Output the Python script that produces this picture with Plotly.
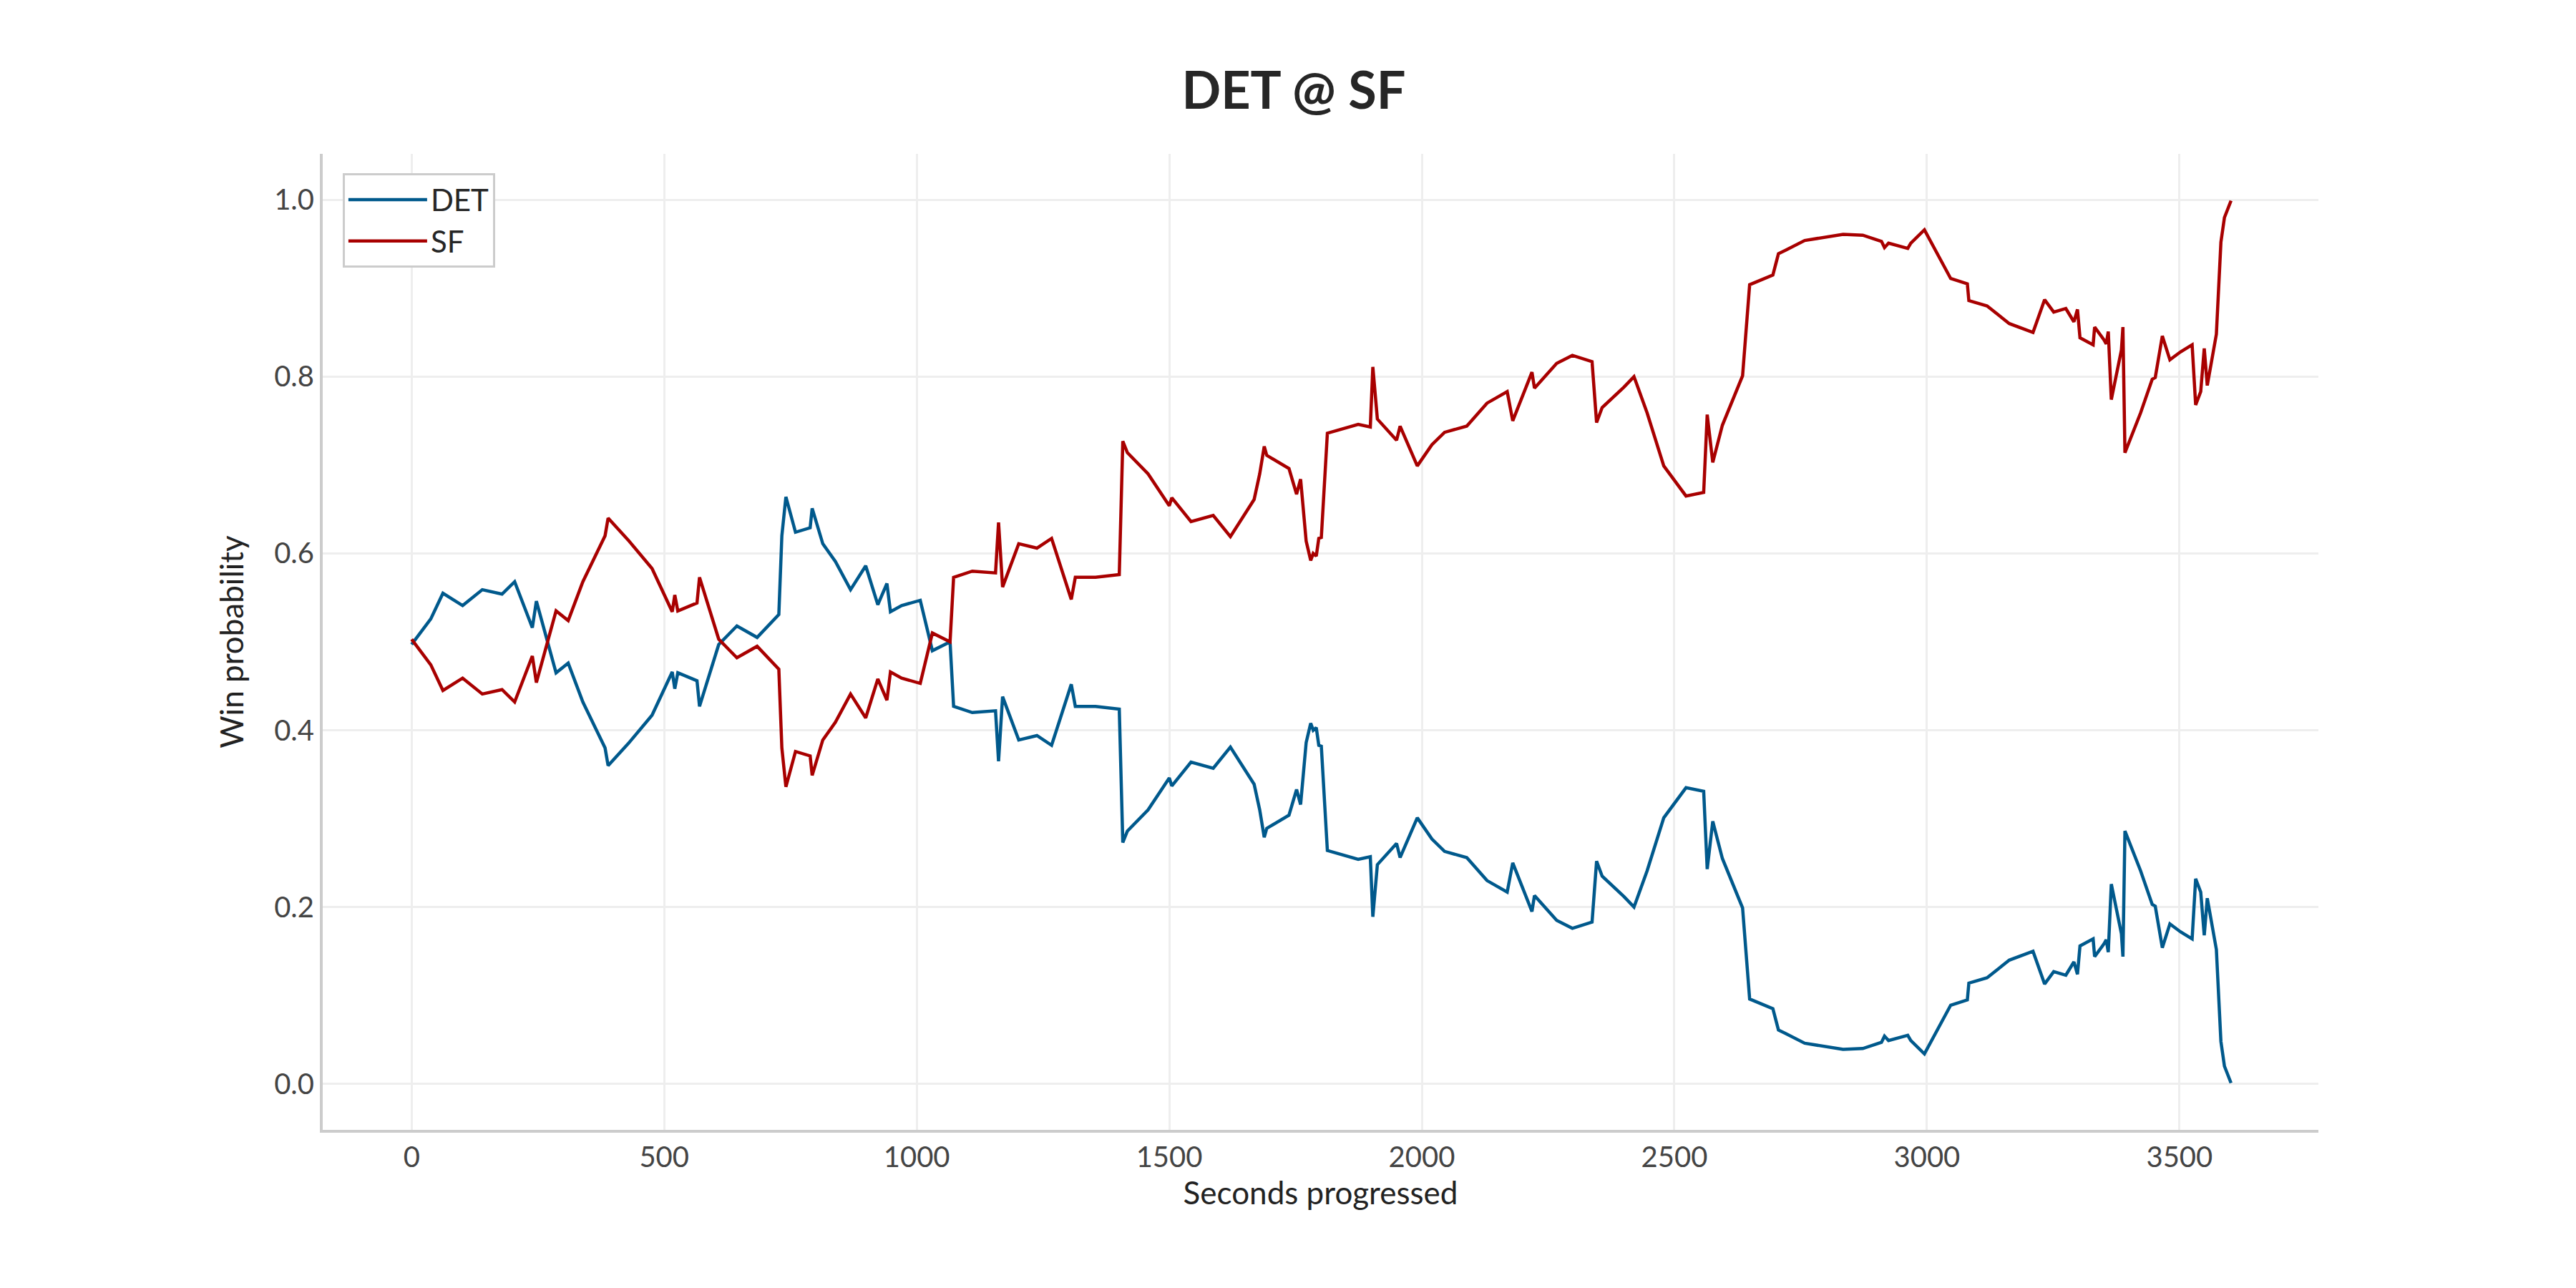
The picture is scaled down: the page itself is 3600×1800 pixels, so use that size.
import plotly.graph_objects as go

# seconds progressed
seconds = [0, 38, 62, 101, 140, 179, 204, 239, 247, 286, 310, 339, 383, 389, 429, 476,
           516, 521, 527, 565, 570, 608, 644, 684, 727, 733, 741, 760, 789, 793, 814, 839,
           869, 899, 923, 941, 948, 970, 1007, 1031, 1066, 1073, 1110, 1156, 1162, 1170,
           1202, 1238, 1267, 1306, 1314, 1354, 1401, 1408, 1417, 1458, 1500, 1505, 1543,
           1587, 1621, 1668, 1679, 1688, 1693, 1737, 1752, 1760, 1771, 1780, 1785, 1791,
           1796, 1801, 1813, 1874, 1898, 1903, 1912, 1950, 1957, 1991, 2020, 2045, 2089,
           2129, 2169, 2180, 2218, 2223, 2267, 2298, 2337, 2346, 2357, 2400, 2420, 2446,
           2479, 2523, 2558, 2565, 2576, 2595, 2635, 2649, 2695, 2706, 2720, 2758, 2834,
           2873, 2910, 2916, 2924, 2962, 2968, 2995, 3047, 3080, 3083, 3119, 3163, 3210,
           3233, 3251, 3275, 3291, 3298, 3303, 3329, 3332, 3350, 3355, 3359, 3365, 3385,
           3388, 3392, 3401, 3423, 3446, 3452, 3466, 3472, 3481, 3502, 3525, 3532, 3542,
           3549, 3555, 3573, 3582, 3589, 3602]

sf_prob = [0.503, 0.474, 0.445, 0.459, 0.441, 0.446, 0.432, 0.484, 0.454, 0.535, 0.524,
           0.568, 0.620, 0.640, 0.615, 0.583, 0.534, 0.553, 0.535, 0.544, 0.573, 0.503,
           0.482, 0.495, 0.469, 0.380, 0.336, 0.376, 0.371, 0.349, 0.389, 0.409, 0.441,
           0.414, 0.458, 0.434, 0.466, 0.459, 0.453, 0.510, 0.500, 0.573, 0.580, 0.578,
           0.635, 0.562, 0.611, 0.606, 0.617, 0.548, 0.573, 0.573, 0.576, 0.727, 0.714,
           0.690, 0.654, 0.663, 0.636, 0.643, 0.619, 0.661, 0.690, 0.721, 0.711, 0.696,
           0.667, 0.684, 0.614, 0.592, 0.600, 0.597, 0.617, 0.618, 0.736, 0.746, 0.743,
           0.811, 0.752, 0.728, 0.744, 0.699, 0.723, 0.737, 0.744, 0.770, 0.783, 0.750,
           0.805, 0.787, 0.815, 0.824, 0.817, 0.748, 0.765, 0.788, 0.800, 0.759, 0.699,
           0.665, 0.669, 0.757, 0.703, 0.745, 0.801, 0.904, 0.915, 0.939, 0.943, 0.954,
           0.961, 0.960, 0.953, 0.946, 0.951, 0.945, 0.951, 0.966, 0.911, 0.905, 0.886,
           0.880, 0.860, 0.850, 0.887, 0.873, 0.877, 0.862, 0.876, 0.844, 0.836, 0.856,
           0.842, 0.837, 0.851, 0.774, 0.830, 0.856, 0.714, 0.727, 0.759, 0.797, 0.799,
           0.846, 0.834, 0.819, 0.828, 0.836, 0.768, 0.783, 0.832, 0.790, 0.848, 0.952,
           0.980, 0.999]

det_prob = [0.497, 0.526, 0.555, 0.541, 0.559, 0.554, 0.568, 0.516, 0.546, 0.465, 0.476,
            0.432, 0.380, 0.360, 0.385, 0.417, 0.466, 0.447, 0.465, 0.456, 0.427, 0.497,
            0.518, 0.505, 0.531, 0.620, 0.664, 0.624, 0.629, 0.651, 0.611, 0.591, 0.559,
            0.586, 0.542, 0.566, 0.534, 0.541, 0.547, 0.490, 0.500, 0.427, 0.420, 0.422,
            0.365, 0.438, 0.389, 0.394, 0.383, 0.452, 0.427, 0.427, 0.424, 0.273, 0.286,
            0.310, 0.346, 0.337, 0.364, 0.357, 0.381, 0.339, 0.310, 0.279, 0.289, 0.304,
            0.333, 0.316, 0.386, 0.408, 0.400, 0.403, 0.383, 0.382, 0.264, 0.254, 0.257,
            0.189, 0.248, 0.272, 0.256, 0.301, 0.277, 0.263, 0.256, 0.230, 0.217, 0.250,
            0.195, 0.213, 0.185, 0.176, 0.183, 0.252, 0.235, 0.212, 0.200, 0.241, 0.301,
            0.335, 0.331, 0.243, 0.297, 0.255, 0.199, 0.096, 0.085, 0.061, 0.057, 0.046,
            0.039, 0.040, 0.047, 0.054, 0.049, 0.055, 0.049, 0.034, 0.089, 0.095, 0.114,
            0.120, 0.140, 0.150, 0.113, 0.127, 0.123, 0.138, 0.124, 0.156, 0.164, 0.144,
            0.158, 0.163, 0.149, 0.226, 0.170, 0.144, 0.286, 0.273, 0.241, 0.203, 0.201,
            0.154, 0.166, 0.181, 0.172, 0.164, 0.232, 0.217, 0.168, 0.210, 0.152, 0.048,
            0.020, 0.001]

FONT = "Lato"
fig = go.Figure()
fig.add_trace(go.Scatter(x=seconds, y=det_prob, mode='lines', name='DET',
                         line=dict(color='#00598c', width=4.5)))
fig.add_trace(go.Scatter(x=seconds, y=sf_prob, mode='lines', name='SF',
                         line=dict(color='#a80000', width=4.5)))

fig.update_layout(
    width=3600, height=1800,
    paper_bgcolor='white', plot_bgcolor='white',
    margin=dict(l=443, r=368, t=207, b=229),
    font=dict(family=FONT, size=40, color='#333333'),
    title=dict(text='<b>DET @ SF</b>', x=0.5, xanchor='center', y=0.948,
               font=dict(size=72, color='#262626', family=FONT)),
    legend=dict(x=0.01, y=0.98, xanchor='left', yanchor='top',
                bordercolor='#cccccc', borderwidth=3, bgcolor='white',
                itemwidth=110, tracegroupgap=0,
                font=dict(size=42, color='#262626')),
)
fig.update_xaxes(range=[-176, 3775], tickvals=[0, 500, 1000, 1500, 2000, 2500, 3000, 3500],
                 showgrid=True, gridcolor='#eeeeee', gridwidth=3, zeroline=False,
                 showline=True, linecolor='#cccccc', linewidth=4, ticks='',
                 tickfont=dict(size=40, color='#444444'),
                 title=dict(text='Seconds progressed', font=dict(size=44, color='#222222'),
                            standoff=10))
fig.update_yaxes(range=[-0.052, 1.052], tickvals=[0, 0.2, 0.4, 0.6, 0.8, 1.0],
                 ticktext=['0.0', '0.2', '0.4', '0.6', '0.8', '1.0'],
                 showgrid=True, gridcolor='#eeeeee', gridwidth=3, zeroline=False,
                 showline=True, linecolor='#cccccc', linewidth=4, ticks='',
                 tickfont=dict(size=40, color='#444444'),
                 title=dict(text='Win probability', font=dict(size=44, color='#222222'),
                            standoff=30))

fig.write_html("out.html")
